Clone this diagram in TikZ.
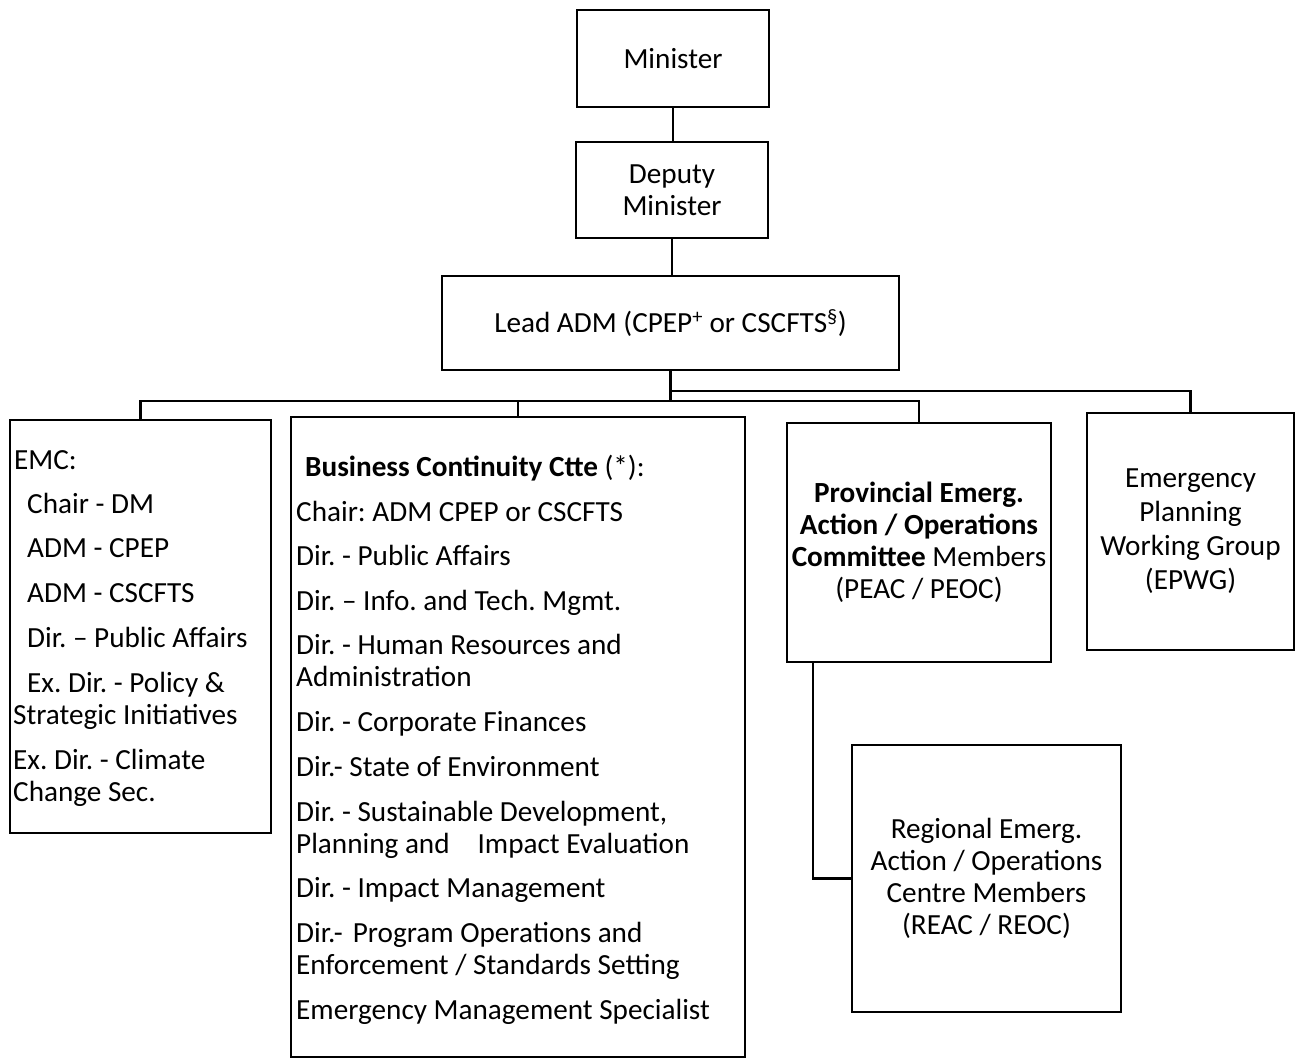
\documentclass[tikz,border=0pt]{standalone}
\usepackage{fontspec}
\setmainfont{Carlito}
\newcommand{\orgfont}{\fontsize{29.2}{32}\selectfont}
\begin{document}
\frenchspacing
\begin{tikzpicture}[x=1pt,y=-1pt,
  box/.style={draw,line width=2.7pt,rectangle,inner sep=0pt,outer sep=0pt,align=center,font=\orgfont},
  link/.style={line width=2.7pt},
  txt/.style={anchor=base west,inner sep=0pt,font=\orgfont}]
\useasboundingbox (0,0) rectangle (1297,1059);

% top of the hierarchy
\node[box,minimum width=192pt,minimum height=97pt] (min) at (673,58.5) {Minister};
\node[box,minimum width=192pt,minimum height=96pt] (dm) at (672,190) {Deputy\\Minister};
\node[box,minimum width=457pt,minimum height=94pt] (lead) at (670.5,323)
  {Lead ADM (CPEP\textsuperscript{+} or CSCFTS\textsuperscript{§})};

% committees and groups
\node[box,minimum width=261pt,minimum height=413pt] (emc) at (140.5,626.5) {};
\node[box,minimum width=454pt,minimum height=640pt] (bcc) at (518,737) {};
\node[box,minimum width=264pt,minimum height=239pt] (peac) at (919,542.5)
  {\textbf{Provincial Emerg.}\\\textbf{Action / Operations}\\\textbf{Committee} Members\\(PEAC / PEOC)};
\node[box,minimum width=207pt,minimum height=237pt,font=\fontsize{29.2}{34}\selectfont] (epwg) at (1190.5,531.5)
  {Emergency\\Planning\\Working Group\\(EPWG)};
\node[box,minimum width=269pt,minimum height=267pt] (reac) at (986.5,878.5)
  {Regional Emerg.\\Action / Operations\\Centre Members\\(REAC / REOC)};

% EMC membership
\node[txt] (emc1) at (14,469) {EMC:};
\node[txt] (emc2) at (27,513) {Chair - DM};
\node[txt] (emc3) at (27,557) {ADM - CPEP};
\node[txt] (emc4) at (27,602) {ADM - CSCFTS};
\node[txt] (emc5) at (27,647) {Dir. – Public Affairs};
\node[txt] (emc6) at (27,692) {Ex. Dir. - Policy \&};
\node[txt] (emc7) at (13,724) {Strategic Initiatives};
\node[txt] (emc8) at (13,769) {Ex. Dir. - Climate};
\node[txt] (emc9) at (13,801) {Change Sec.};

% Business Continuity Committee membership
\node[txt] (bcc1) at (305,476) {\textbf{Business Continuity Ctte} (*):};
\node[txt] (bcc2) at (296,521) {Chair: ADM CPEP or CSCFTS};
\node[txt] (bcc3) at (296,565) {Dir. - Public Affairs};
\node[txt] (bcc4) at (296,610) {Dir. – Info. and Tech. Mgmt.};
\node[txt] (bcc5) at (296,654) {Dir. - Human Resources and};
\node[txt] (bcc6) at (296,686) {Administration};
\node[txt] (bcc7) at (296,731) {Dir. - Corporate Finances};
\node[txt] (bcc8) at (296,776) {Dir.- State of Environment};
\node[txt] (bcc9) at (296,821) {Dir. - Sustainable Development,};
\node[txt] (bcc10) at (296,853) {Planning and\hspace{28pt}Impact Evaluation};
\node[txt] (bcc11) at (296,897) {Dir. - Impact Management};
\node[txt] (bcc12) at (296,942) {Dir.-\hspace{10pt}Program Operations and};
\node[txt] (bcc13) at (296,974) {Enforcement / Standards Setting};
\node[txt] (bcc14) at (296,1019) {Emergency Management Specialist};

% connectors
\coordinate (busA) at (670.5,401);
\coordinate (busB) at (670.5,391);
\draw[link] (min.south) -- (min.south |- dm.north);
\draw[link] (dm.south) -- (dm.south |- lead.north);
\draw[link] (lead.south) -- (busA);
\draw[link] (busA) -| (emc.north);
\draw[link] (busA) -| (bcc.north);
\draw[link] (busA) -| (peac.north);
\draw[link] (busB) -| (epwg.north);
\draw[link] ([xshift=26pt]peac.south west) |- (reac.west);
\end{tikzpicture}
\end{document}
